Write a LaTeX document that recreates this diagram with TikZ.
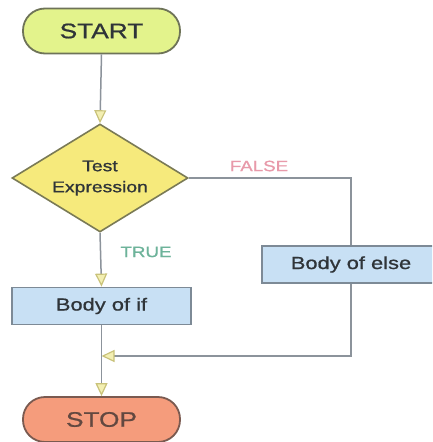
\documentclass[tikz,border=0pt]{standalone}
\usepackage{fontspec}
\setmainfont{Liberation Sans}[FakeStretch=1.25,FakeBold=0.9]
\usetikzlibrary{arrows.meta,shapes.geometric}

\definecolor{startfill}{HTML}{E3F38C}
\definecolor{startline}{HTML}{6E7358}
\definecolor{decfill}{HTML}{F6EA7C}
\definecolor{decline}{HTML}{7A7A55}
\definecolor{boxfill}{HTML}{C8E0F4}
\definecolor{boxline}{HTML}{7D8A96}
\definecolor{stopfill}{HTML}{F59C7C}
\definecolor{stopline}{HTML}{7A5A50}
\definecolor{flowline}{HTML}{8C939B}
\definecolor{tipfill}{HTML}{F3EFB2}
\definecolor{tipline}{HTML}{C9C27A}
\definecolor{txt}{HTML}{2F3438}
\definecolor{truecol}{HTML}{6DB39A}
\definecolor{falsecol}{HTML}{E89AAA}

\tikzset{
  terminal/.style={draw, line width=1.8pt, rounded corners=22pt,
    minimum width=157pt, minimum height=45pt, inner sep=0pt,
    font=\fontsize{21}{22}\selectfont, text=txt},
  decision/.style={draw=decline, fill=decfill, line width=1.6pt, diamond,
    aspect=1.63, inner sep=0pt, minimum width=176pt, minimum height=108pt,
    align=center, font=\fontsize{15.5}{21}\selectfont, text=txt},
  process/.style={draw=boxline, fill=boxfill, line width=1.8pt,
    minimum width=179pt, minimum height=37pt, inner sep=0pt,
    font=\fontsize{17.5}{20}\selectfont, text=txt},
  flow/.style={draw=flowline, line width=1.5pt},
  arrowflow/.style={flow, -{Triangle[length=13pt,width=12pt,fill=tipfill,color=tipline,line width=1.2pt]}},
  branch/.style={font=\fontsize{15}{18}\selectfont}
}

\begin{document}
\begin{tikzpicture}[x=1pt,y=-1pt]
  \useasboundingbox (0,0) rectangle (432,442);
  \fill[white] (0,0) rectangle (432,442);
  \clip (0,0) rectangle (432,442);

  % nodes of the flowchart
  \node[terminal, draw=startline, fill=startfill] (start) at (101.5,31) {START};
  \node[decision] (test) at (100,178) {Test\\Expression};
  \node[process] (bodyif) at (101.5,306) {Body of if};
  \node[process, minimum width=178pt] (bodyelse) at (351,264.5) {Body of else};
  \node[terminal, draw=stopline, fill=stopfill, text=stopline!80!black] (stop) at (101.5,419.5) {STOP};
  \coordinate (merge) at (101.5,356);

  % branch labels
  \node[branch, text=falsecol] (falselbl) at (259,166) {FALSE};
  \node[branch, text=truecol] (truelbl) at (146,252) {TRUE};

  % connectors
  \draw[arrowflow] (start.south) -- (test.north);
  \draw[flow] (test.east) -| (bodyelse.north);
  \draw[arrowflow] (test.south) -- (bodyif.north);
  \draw[arrowflow] (bodyelse.south) |- (merge);
  \draw[arrowflow] (bodyif.south) -- (stop.north);
\end{tikzpicture}
\end{document}
